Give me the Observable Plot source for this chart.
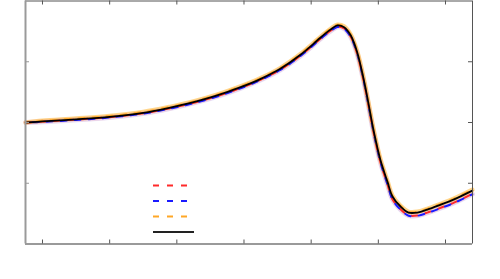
<!DOCTYPE html>
<html>
<head>
<meta charset="utf-8">
<script src="https://cdn.jsdelivr.net/npm/d3@7"></script>
<script src="https://cdn.jsdelivr.net/npm/@observablehq/plot@0.6"></script>
<style>
  html, body { margin: 0; padding: 0; background: #fff; }
  #wrap { position: relative; width: 500px; height: 279px; font-family: "DejaVu Sans", sans-serif; }
  #legend { position: absolute; left: 0; top: 0; pointer-events: none; }
</style>
</head>
<body>
<div id="wrap"></div>
<script>
// ---- data ----
const xs = [0.75, 1.0, 1.5, 2.0, 2.5, 2.9, 3.25, 3.6, 3.95, 4.25, 4.54, 4.84, 5.09, 5.20, 5.29, 5.39, 5.49, 5.59, 5.685, 5.78, 5.85, 5.93, 6.03, 6.14, 6.21, 6.33, 6.45, 6.58, 6.73, 6.93, 7.12, 7.40];
const yBlack = [0.000, 0.017, 0.052, 0.094, 0.160, 0.245, 0.334, 0.445, 0.581, 0.719, 0.884, 1.114, 1.350, 1.455, 1.531, 1.597, 1.569, 1.432, 1.157, 0.720, 0.330, -0.135, -0.612, -0.990, -1.219, -1.383, -1.482, -1.482, -1.433, -1.351, -1.269, -1.121];
const yRed = [0.000, 0.015, 0.048, 0.088, 0.152, 0.235, 0.324, 0.433, 0.569, 0.707, 0.870, 1.099, 1.334, 1.437, 1.511, 1.577, 1.549, 1.410, 1.132, 0.692, 0.300, -0.167, -0.647, -1.030, -1.262, -1.428, -1.528, -1.530, -1.483, -1.403, -1.322, -1.175];
const yBlue = [0.000, 0.010, 0.042, 0.082, 0.146, 0.229, 0.318, 0.427, 0.563, 0.701, 0.864, 1.093, 1.328, 1.431, 1.505, 1.571, 1.543, 1.404, 1.126, 0.686, 0.294, -0.173, -0.653, -1.036, -1.268, -1.434, -1.534, -1.536, -1.489, -1.409, -1.328, -1.181];
const yOrange = [0.000, 0.027, 0.064, 0.106, 0.172, 0.257, 0.346, 0.457, 0.593, 0.731, 0.896, 1.126, 1.362, 1.467, 1.543, 1.609, 1.581, 1.444, 1.169, 0.732, 0.342, -0.123, -0.600, -0.978, -1.207, -1.371, -1.470, -1.470, -1.421, -1.339, -1.257, -1.109];
const xTicks = [1, 2, 3, 4, 5, 6, 7];
const yTicks = [-1, 0, 1];
const xDomain = [0.747, 7.402];
const yDomain = [-2, 2];
const legendItems = [
  {key: "red", color: "#ff2a2a", dash: "6,8"},
  {key: "blue", color: "#1a1aff", dash: "6,8"},
  {key: "orange", color: "#ffa726", dash: "6,8"},
  {key: "black", color: "#222", dash: null}
];

const table = (ys) => xs.map((x, i) => ({x, y: ys[i]}));
const black = table(yBlack), red = table(yRed), blue = table(yBlue), orange = table(yOrange);
const curve = "catmull-rom";

const chart = Plot.plot({
  width: 500,
  height: 279,
  marginLeft: 25,
  marginRight: 28,
  marginTop: 0.5,
  marginBottom: 35.5,
  x: {domain: xDomain, axis: null},
  y: {domain: yDomain, axis: null},
  marks: [
    // light bands
    Plot.line(red, {x: "x", y: "y", stroke: "#ff0000", strokeOpacity: 0.10, strokeWidth: 5, curve}),
    Plot.line(blue, {x: "x", y: "y", stroke: "#0000ff", strokeOpacity: 0.08, strokeWidth: 5, curve}),
    Plot.line(orange, {x: "x", y: "y", stroke: "#ffa500", strokeOpacity: 0.45, strokeWidth: 4.5, curve}),
    // dashed series
    Plot.line(red, {x: "x", y: "y", stroke: "#ff2a2a", strokeWidth: 2, strokeDasharray: "6,8", curve}),
    Plot.line(blue, {x: "x", y: "y", stroke: "#1a1aff", strokeWidth: 2, strokeDasharray: "6,8", strokeDashoffset: 7, curve}),
    Plot.line(orange, {x: "x", y: "y", stroke: "#ffa726", strokeWidth: 2, strokeDasharray: "6,8", strokeDashoffset: 3, curve}),
    Plot.line(black, {x: "x", y: "y", stroke: "#000", strokeWidth: 1.8, curve}),
    // frame
    Plot.ruleY([yDomain[1]], {stroke: "#555", strokeWidth: 1}),
    Plot.ruleX([xDomain[1]], {stroke: "#555", strokeWidth: 1}),
    Plot.ruleX([xDomain[0]], {stroke: "#9a9a9a", strokeWidth: 2}),
    Plot.ruleY([yDomain[0]], {stroke: "#9a9a9a", strokeWidth: 2}),
    // inward ticks
    Plot.tickX(xTicks, {x: d => d, insetTop: 239, stroke: "#555"}),
    Plot.tickX(xTicks, {x: d => d, insetBottom: 239, stroke: "#555"}),
    Plot.tickY(yTicks, {y: d => d, insetRight: 443, stroke: "#999"}),
    Plot.tickY(yTicks, {y: d => d, insetLeft: 443, stroke: "#555"})
  ]
});
const wrap = document.getElementById("wrap");
wrap.appendChild(chart);

// legend (line samples only)
const svg = d3.select(wrap).append("svg")
  .attr("id", "legend").attr("width", 500).attr("height", 279);
const lg = svg.selectAll("g").data(legendItems).join("g")
  .attr("transform", (d, i) => `translate(153, ${185.5 + i * 15.5})`);
lg.append("line")
  .attr("x1", 0).attr("x2", 41).attr("y1", 0).attr("y2", 0)
  .attr("stroke", d => d.color)
  .attr("stroke-width", 2)
  .attr("stroke-dasharray", d => d.dash);
</script>
</body>
</html>
